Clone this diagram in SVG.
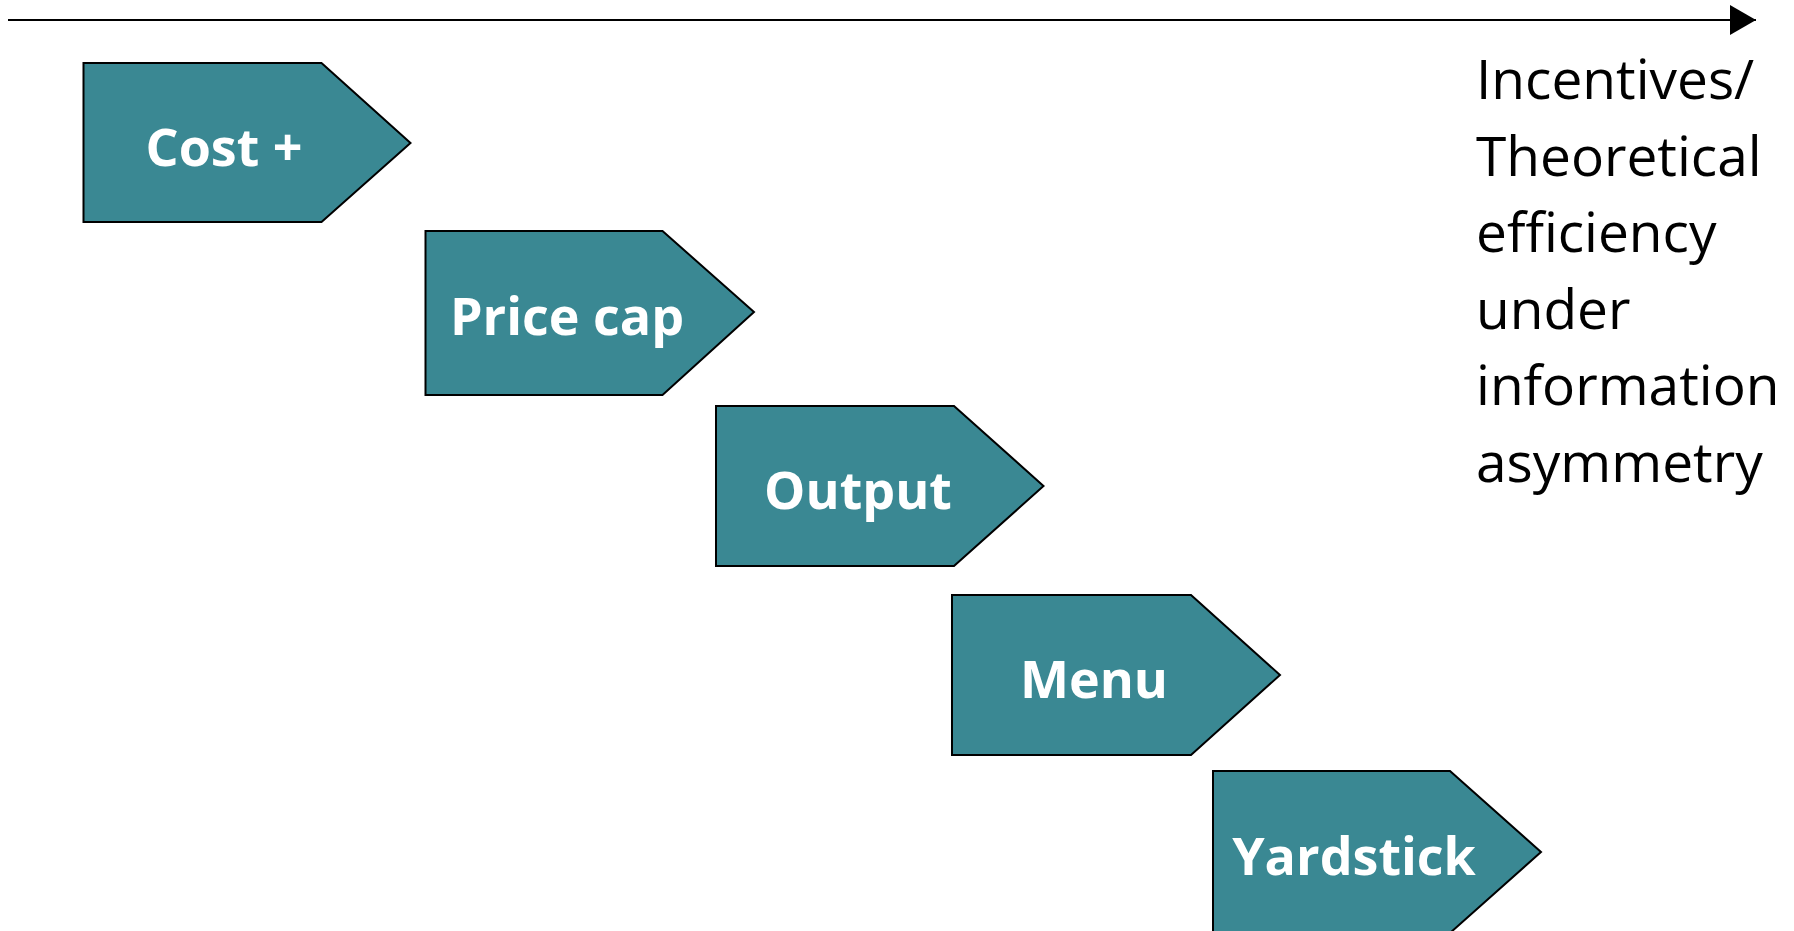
<svg xmlns="http://www.w3.org/2000/svg" width="1794" height="931" viewBox="0 0 1794 931">
<style>
.shape{fill:#3A8893;stroke:#000;stroke-width:2}
.lbl{font-family:"Open Sans","Noto Sans",sans-serif;font-weight:bold;font-size:52px;fill:#fff;text-anchor:middle}
.side{font-family:"Open Sans","Noto Sans",sans-serif;font-size:55px;fill:#000}
</style>
<defs>
<marker id="ah" viewBox="0 0 26 30" refX="26" refY="15" markerWidth="26" markerHeight="30" markerUnits="userSpaceOnUse" orient="auto">
<path d="M0,0 L26,15 L0,30 Z" fill="#000"/>
</marker>
</defs>
<g id="connectors">
<line x1="8" y1="20" x2="1756" y2="20" stroke="#000" stroke-width="2" marker-end="url(#ah)"/>
</g>
<g id="cost">
<path class="shape" d="M83.5,63 H321.5 L410.5,143 L321.5,222 H83.5 Z"/>
<text class="lbl" x="224" y="166">Cost +</text>
</g>
<g id="pricecap">
<path class="shape" d="M425.5,231 H662.5 L754,312 L662.5,395 H425.5 Z"/>
<text class="lbl" x="567" y="335">Price cap</text>
</g>
<g id="output">
<path class="shape" d="M716,406 H954 L1043.5,486 L954,566 H716 Z"/>
<text class="lbl" x="858" y="509">Output</text>
</g>
<g id="menu">
<path class="shape" d="M952,595 H1191 L1280,675 L1191,755 H952 Z"/>
<text class="lbl" x="1094" y="698">Menu</text>
</g>
<g id="yardstick">
<path class="shape" d="M1213,771 H1450 L1541,852 L1450,933 H1213 Z"/>
<text class="lbl" x="1354" y="875">Yardstick</text>
</g>
<g id="axislabel">
<text class="side" x="1476" y="99">Incentives/</text>
<text class="side" x="1476" y="176">Theoretical</text>
<text class="side" x="1476" y="252">efficiency</text>
<text class="side" x="1476" y="329">under</text>
<text class="side" x="1476" y="405">information</text>
<text class="side" x="1476" y="482">asymmetry</text>
</g>
</svg>
